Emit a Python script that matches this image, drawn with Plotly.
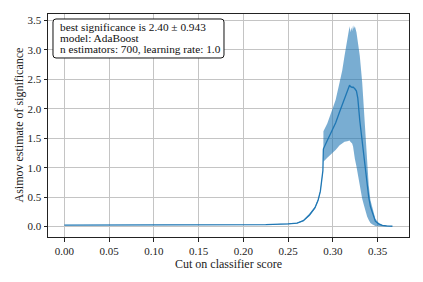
import plotly.graph_objects as go

cut = [0.000, 0.050, 0.100, 0.150, 0.200, 0.225, 0.250, 0.260, 0.267, 0.274,
       0.280, 0.2835, 0.286, 0.2878, 0.2888, 0.2893, 0.2894, 0.2937, 0.2993, 0.303,
       0.3075, 0.3104, 0.313, 0.316, 0.3178, 0.3186, 0.3195, 0.3205, 0.3215, 0.3225,
       0.3233, 0.3245, 0.3263, 0.3278, 0.330, 0.3327, 0.3345, 0.3363, 0.3382, 0.340,
       0.3419, 0.3438, 0.3456, 0.3474, 0.3511, 0.355, 0.360, 0.3665]
significance = [0.025, 0.025, 0.025, 0.025, 0.027, 0.032, 0.045, 0.058, 0.10, 0.20,
                0.32, 0.45, 0.60, 0.79, 0.95, 1.30, 1.32, 1.46, 1.63, 1.76,
                1.95, 2.06, 2.18, 2.29, 2.36, 2.40, 2.38, 2.37, 2.36, 2.37,
                2.36, 2.34, 2.30, 2.18, 1.80, 1.46, 1.24, 0.95, 0.67, 0.50,
                0.34, 0.24, 0.14, 0.09, 0.045, 0.02, 0.01, 0.005]
sig_upper = [0.025, 0.025, 0.025, 0.025, 0.027, 0.034, 0.05, 0.065, 0.11, 0.22,
             0.34, 0.47, 0.62, 0.81, 0.97, 1.30, 1.62, 1.75, 2.00, 2.15,
             2.45, 2.65, 2.90, 3.15, 3.34, 3.40, 3.30, 3.38, 3.32, 3.42,
             3.36, 3.40, 3.30, 3.15, 2.90, 2.45, 2.00, 1.55, 1.05, 0.70,
             0.45, 0.32, 0.20, 0.13, 0.06, 0.03, 0.012, 0.005]
sig_lower = [0.025, 0.025, 0.025, 0.025, 0.027, 0.030, 0.04, 0.05, 0.09, 0.18,
             0.30, 0.43, 0.58, 0.77, 0.93, 1.30, 1.10, 1.17, 1.24, 1.30,
             1.38, 1.41, 1.44, 1.45, 1.46, 1.46, 1.44, 1.43, 1.41, 1.36,
             1.25, 1.15, 1.02, 0.88, 0.68, 0.47, 0.37, 0.26, 0.17, 0.11,
             0.06, 0.04, 0.02, 0.01, 0.005, 0.0, 0.0, 0.003]

x_ticks = [0.00, 0.05, 0.10, 0.15, 0.20, 0.25, 0.30, 0.35]
y_ticks = [0.0, 0.5, 1.0, 1.5, 2.0, 2.5, 3.0, 3.5]

x_title = "Cut on classifier score"
y_title = "Asimov estimate of significance"
label_lines = ["best significance is 2.40 \u00b1 0.943",
               "model: AdaBoost",
               "n estimators: 700, learning rate: 1.0"]

blue = "#1f77b4"
font_family = "Liberation Serif"
ink = "#222222"

fig = go.Figure()
fig.add_trace(go.Scatter(x=cut, y=sig_lower, mode="lines", line=dict(width=0),
                         showlegend=False, hoverinfo="skip"))
fig.add_trace(go.Scatter(x=cut, y=sig_upper, mode="lines", line=dict(width=0),
                         fill="tonexty", fillcolor="rgba(31,119,180,0.6)",
                         showlegend=False, hoverinfo="skip"))
fig.add_trace(go.Scatter(x=cut, y=significance, mode="lines",
                         line=dict(color=blue, width=1.3), showlegend=False))

axis_common = dict(showgrid=True, gridcolor="#c4c4c4", gridwidth=0.8,
                   showline=True, linecolor=ink, linewidth=1, mirror=True,
                   ticks="outside", ticklen=3.5, tickcolor=ink, tickwidth=0.8,
                   zeroline=False, automargin=False,
                   tickfont=dict(family=font_family, size=11, color=ink))

fig.update_xaxes(range=[-0.0183, 0.385], tickvals=x_ticks,
                 ticktext=[f"{v:.2f}" for v in x_ticks], **axis_common)
fig.update_yaxes(range=[-0.178, 3.61], tickvals=y_ticks,
                 ticktext=[f"{v:.1f}" for v in y_ticks], **axis_common)

# axis titles
fig.add_annotation(xref="paper", yref="paper", x=0.5, y=-0.122, xanchor="center",
                   yanchor="middle", showarrow=False, text=x_title,
                   font=dict(family=font_family, size=12, color=ink))
fig.add_annotation(xref="paper", yref="paper", x=-0.083, y=0.5, xanchor="center",
                   yanchor="middle", showarrow=False, text=y_title, textangle=-90,
                   font=dict(family=font_family, size=12, color=ink))

# rounded text box
x0, x1, y0, y1 = 0.01385, 0.4875, 0.8027, 0.9776
rx, ry = 0.0083, 0.0135
box_path = (f"M {x0+rx},{y0} L {x1-rx},{y0} Q {x1},{y0} {x1},{y0+ry} "
            f"L {x1},{y1-ry} Q {x1},{y1} {x1-rx},{y1} L {x0+rx},{y1} "
            f"Q {x0},{y1} {x0},{y1-ry} L {x0},{y0+ry} Q {x0},{y0} {x0+rx},{y0} Z")
fig.add_shape(type="path", xref="paper", yref="paper", path=box_path,
              fillcolor="white", line=dict(color="#111111", width=1), layer="above")
line_y = [0.9417, 0.8924, 0.843]
for txt, yy in zip(label_lines, line_y):
    fig.add_annotation(xref="paper", yref="paper", x=0.0277, y=yy, xanchor="left",
                       yanchor="middle", showarrow=False, text=txt,
                       font=dict(family=font_family, size=11.3, color="#111111"))

fig.update_layout(width=423, height=282, margin=dict(l=48, r=14, t=14, b=45),
                  plot_bgcolor="white", paper_bgcolor="white",
                  font=dict(family=font_family))

fig.write_html("out.html", config={"displayModeBar": False},
               post_script="document.body.style.margin='0';document.body.style.padding='0';")
